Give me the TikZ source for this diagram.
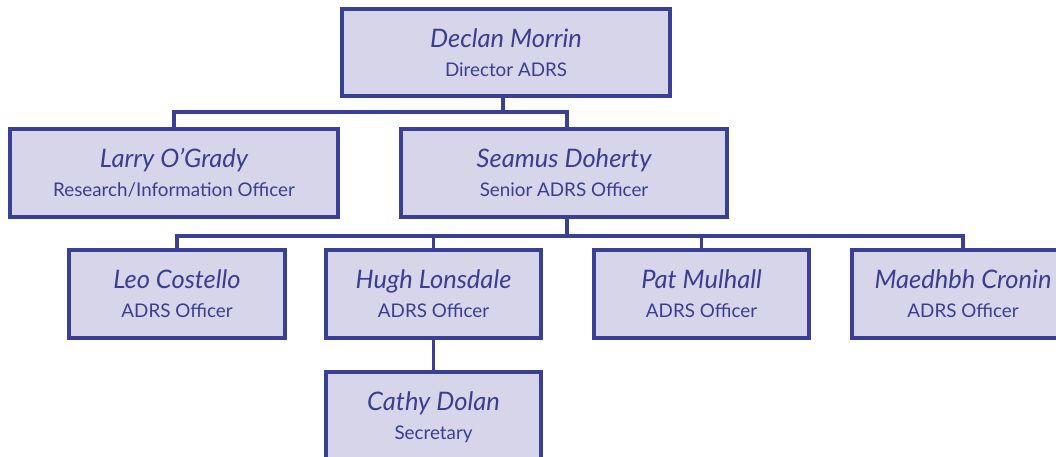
\documentclass[tikz,border=0pt]{standalone}
\usepackage{fontspec}
\setmainfont{Lato}
\definecolor{boxfill}{HTML}{D7D5EA}
\definecolor{boxline}{HTML}{3A3F98}
\definecolor{txt}{HTML}{3A3D92}
\tikzset{
  orgbox/.style={draw=boxline, fill=boxfill, line width=3.2pt, inner sep=0pt},
  namelbl/.style={anchor=base, text=txt, inner sep=0pt, font=\fontsize{25.5}{28}\selectfont\itshape},
  titlelbl/.style={anchor=base, text=txt, inner sep=0pt, font=\fontsize{18.8}{22}\selectfont},
  link/.style={draw=boxline, line width=3.2pt}
}
\newcommand{\orgperson}[7]{%
  \node[orgbox, minimum width={#4-#2}, minimum height={#5-#3}] (#1) at ({(#2+#4)/2},{(#3+#5)/2}) {};
  \node[namelbl] (#1-n) at ({(#2+#4)/2},{#3+38}) {#6};
  \node[titlelbl] (#1-t) at ({(#2+#4)/2},{#3+67}) {#7};
}
\begin{document}
\begin{tikzpicture}[x=1pt,y=-1pt]
\useasboundingbox (0,0) rectangle (1056,456);
\clip (0,0) rectangle (1056,456);
\fill[white] (0,0) rectangle (1056,456);
\orgperson{dm}{342}{9}{670}{96}{Declan Morrin}{Director ADRS}
\orgperson{lo}{10}{129}{338}{217}{Larry O’Grady}{Research/Information Officer}
\orgperson{sd}{401}{129}{727}{217}{Seamus Doherty}{Senior ADRS Officer}
\orgperson{lc}{69}{250}{285}{338}{Leo Costello}{ADRS Officer}
\orgperson{hl}{326}{250}{541}{338}{Hugh Lonsdale}{ADRS Officer}
\orgperson{pm}{594}{250}{809}{338}{Pat Mulhall}{ADRS Officer}
\orgperson{mc}{852}{250}{1074}{338}{Maedhbh Cronin}{ADRS Officer}
\orgperson{cd}{326}{372}{541}{466}{Cathy Dolan}{Secretary}
% connectors
\coordinate (j1) at (503,112);
\coordinate (j2) at (567,236);
\draw[link] ([xshift=-3pt]dm.south) -- (j1);
\draw[link] (lo.north) |- (j1) -| ([xshift=3pt]sd.north);
\draw[link] ([xshift=3pt]sd.south) -- (j2);
\draw[link] (lc.north) |- (j2) -| (mc.north);
\draw[link] (hl.north) -- (hl.north |- j2);
\draw[link] (pm.north) -- (pm.north |- j2);
\draw[link] (hl.south) -- (cd.north);
\end{tikzpicture}
\end{document}
